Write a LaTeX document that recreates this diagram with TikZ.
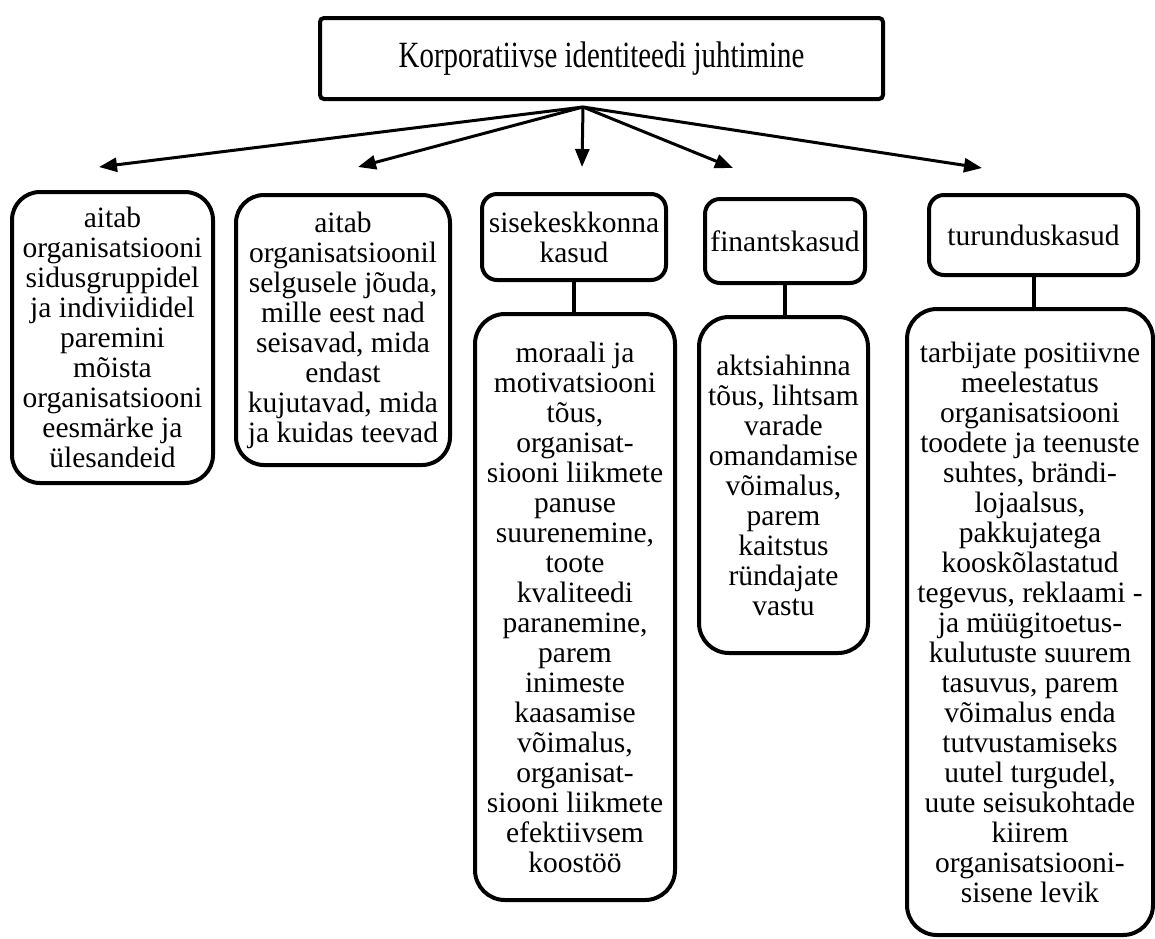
\documentclass[tikz,border=0pt]{standalone}
\usepackage{fontspec}
\setmainfont{Liberation Serif}
\usetikzlibrary{arrows.meta}
\begin{document}
\begin{tikzpicture}[x=1pt,y=-1pt,
  box/.style={draw, line width=4pt, rounded corners=#1, align=center,
    inner sep=0pt, fill=white, font=\fontsize{29.5}{30}\selectfont},
  box/.default=28pt,
  fan/.style={line width=3pt, -{Triangle[length=18pt,width=14pt]}},
  link/.style={line width=4pt}]
\useasboundingbox (0,0) rectangle (1155,938);

% root
\node[box=4pt, minimum width=563pt, minimum height=81pt,
      font=\fontsize{37}{40}\selectfont] (root) at (601.5,58.5)
  {\scalebox{0.78}[1]{Korporatiivse identiteedi juhtimine}};

% first level
\node[box, minimum width=201pt, minimum height=291pt] (b1) at (112.5,337.5)
  {aitab\\organisatsiooni\\sidusgruppidel\\ja indiviididel\\paremini\\mõista\\organisatsiooni\\eesmärke ja\\ülesandeid};
\node[box, minimum width=214pt, minimum height=270pt] (b2) at (343,330)
  {aitab\\organisatsioonil\\selgusele jõuda,\\mille eest nad\\seisavad, mida\\endast\\kujutavad, mida\\ja kuidas teevad};
\node[box=15pt, minimum width=184pt, minimum height=86pt] (h3) at (574,237)
  {sisekeskkonna\\kasud};
\node[box=15pt, minimum width=160pt, minimum height=84pt] (h4) at (785,241)
  {finantskasud};
\node[box=15pt, minimum width=209pt, minimum height=80pt] (h5) at (1033.5,235)
  {turunduskasud};

% details
\node[box=30pt, minimum width=200pt, minimum height=586pt] (d3) at (575,607)
  {moraali ja\\motivatsiooni\\tõus,\\organisat-\\siooni liikmete\\panuse\\suurenemine,\\toote\\kvaliteedi\\paranemine,\\parem\\inimeste\\kaasamise\\võimalus,\\organisat-\\siooni liikmete\\efektiivsem\\koostöö};
\node[box=30pt, minimum width=169pt, minimum height=336pt] (d4) at (783.5,485)
  {aktsiahinna\\tõus, lihtsam\\varade\\omandamise\\võimalus,\\parem\\kaitstus\\ründajate\\vastu};
\node[box=30pt, minimum width=246pt, minimum height=626pt] (d5) at (1030,622)
  {tarbijate positiivne\\meelestatus\\organisatsiooni\\toodete ja teenuste\\suhtes, brändi-\\lojaalsus,\\pakkujatega\\kooskõlastatud\\tegevus, reklaami -\\ja müügitoetus-\\kulutuste suurem\\tasuvus, parem\\võimalus enda\\tutvustamiseks\\uutel turgudel,\\uute seisukohtade\\kiirem\\organisatsiooni-\\sisene levik};

% header-to-detail links
\draw[link] (h3.south) -- (h3.south |- d3.north);
\draw[link] (h4.south) -- (h4.south |- d4.north);
\draw[link] (h5.south) -- (h5.south |- d5.north);

% fan of arrows below the root
\coordinate (hub) at (583,107);
\coordinate (t1) at (99,167);
\coordinate (t2) at (358,167);
\coordinate (t3) at (582,167);
\coordinate (t4) at (733,168);
\coordinate (t5) at (982,168);
\foreach \t in {t1,t2,t3,t4,t5}
  \draw[fan] (hub) -- (\t);
\end{tikzpicture}
\end{document}
